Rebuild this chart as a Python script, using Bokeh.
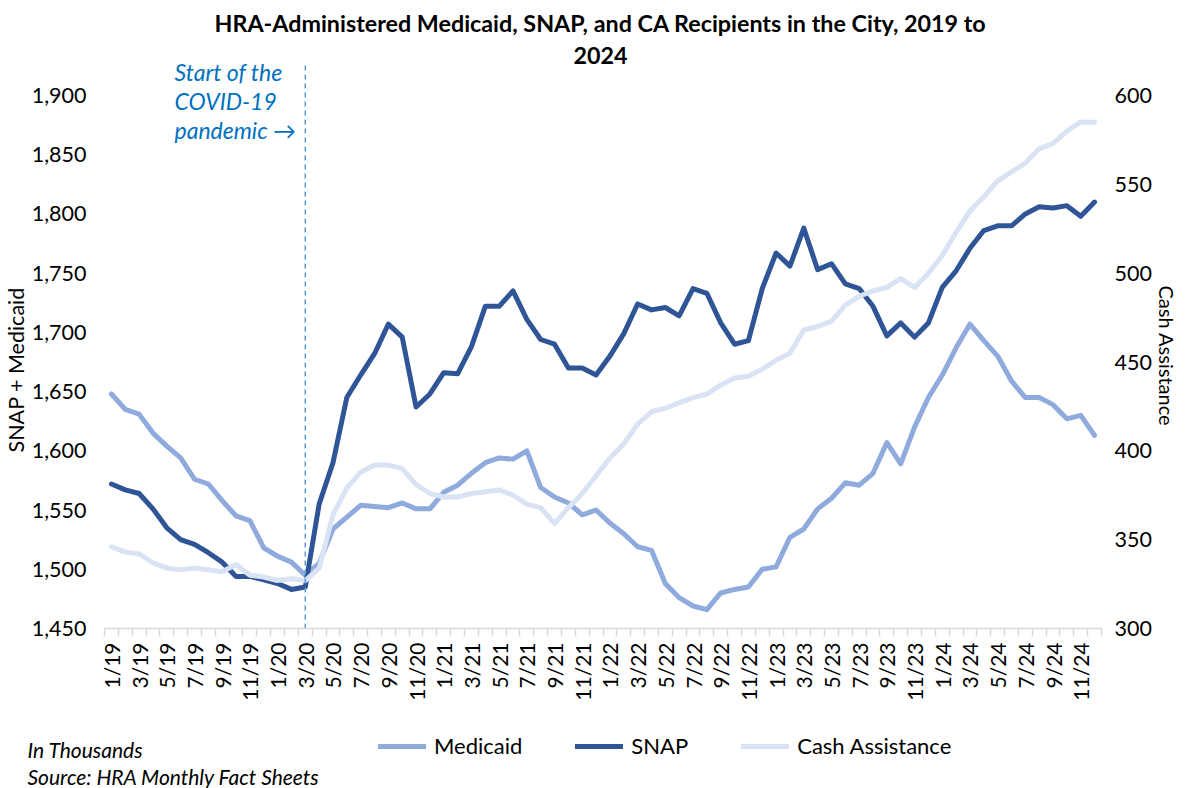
import math
from bokeh.plotting import figure
from bokeh.layouts import column
from bokeh.models import (Range1d, LinearAxis, FixedTicker, NumeralTickFormatter,
                          Label, Legend, LegendItem, Title)
from bokeh.embed import file_html
from bokeh.resources import INLINE

# ---------------- data (thousands) ----------------
month_labels = [
    "1/19", "2/19", "3/19", "4/19", "5/19", "6/19", "7/19", "8/19", "9/19", "10/19", "11/19", "12/19",
    "1/20", "2/20", "3/20", "4/20", "5/20", "6/20", "7/20", "8/20", "9/20", "10/20", "11/20", "12/20",
    "1/21", "2/21", "3/21", "4/21", "5/21", "6/21", "7/21", "8/21", "9/21", "10/21", "11/21", "12/21",
    "1/22", "2/22", "3/22", "4/22", "5/22", "6/22", "7/22", "8/22", "9/22", "10/22", "11/22", "12/22",
    "1/23", "2/23", "3/23", "4/23", "5/23", "6/23", "7/23", "8/23", "9/23", "10/23", "11/23", "12/23",
    "1/24", "2/24", "3/24", "4/24", "5/24", "6/24", "7/24", "8/24", "9/24", "10/24", "11/24", "12/24",
]

medicaid = [
    1648, 1635, 1631, 1615, 1604, 1594, 1576, 1572, 1558, 1545, 1541, 1518,
    1511, 1506, 1495, 1505, 1534, 1544, 1554, 1553, 1552, 1556, 1551, 1551,
    1565, 1571, 1581, 1590, 1594, 1593, 1600, 1569, 1561, 1556, 1546, 1550,
    1539, 1530, 1519, 1516, 1488, 1476, 1469, 1466, 1480, 1483, 1485, 1500,
    1502, 1527, 1534, 1551, 1560, 1573, 1571, 1581, 1607, 1589, 1620, 1645,
    1664, 1687, 1707, 1693, 1680, 1659, 1645, 1645, 1639, 1627, 1630, 1613,
]

snap = [
    1572, 1567, 1564, 1551, 1535, 1525, 1521, 1514, 1506, 1494, 1494, 1491,
    1488, 1483, 1485, 1555, 1590, 1645, 1664, 1682, 1707, 1696, 1637, 1648,
    1666, 1665, 1688, 1722, 1722, 1735, 1711, 1694, 1690, 1670, 1670, 1664,
    1680, 1699, 1724, 1719, 1721, 1714, 1737, 1733, 1708, 1690, 1693, 1737,
    1767, 1756, 1788, 1753, 1758, 1741, 1737, 1722, 1697, 1708, 1696, 1708,
    1738, 1752, 1771, 1786, 1790, 1790, 1800, 1806, 1805, 1807, 1798, 1810,
]

cash_assistance = [
    346, 343, 342, 337, 334, 333, 334, 333, 332, 336, 330, 329,
    327, 328, 327, 334, 364, 379, 388, 392, 392, 390, 381, 376,
    374, 374, 376, 377, 378, 375, 370, 368, 359, 368, 376, 386,
    396, 404, 415, 422, 424, 427, 430, 432, 437, 441, 442, 446,
    451, 455, 468, 470, 473, 482, 487, 490, 492, 497, 492, 500,
    510, 523, 535, 543, 552, 557, 562, 570, 573, 580, 585, 585,
]

left_ticks = [1450, 1500, 1550, 1600, 1650, 1700, 1750, 1800, 1850, 1900]
right_ticks = [300, 350, 400, 450, 500, 550, 600]
covid_start = "3/20"

title_lines = ["HRA-Administered Medicaid, SNAP, and CA Recipients in the City, 2019 to", "2024"]
covid_note = ["Start of the", "COVID-19", "pandemic \u2192"]
footnotes = ["In Thousands", "Source: HRA Monthly Fact Sheets"]

C_MED, C_SNAP, C_CA = "#8FAADC", "#2F5597", "#DAE3F3"
FONT = "Lato"
W = 1180
idx = list(range(len(month_labels)))

# ---------------- main figure ----------------
p = figure(width=W, height=712, output_backend="svg", toolbar_location=None,
           x_range=Range1d(-0.5, len(month_labels) - 0.5),
           y_range=Range1d(1450, 1980.2),
           min_border_left=103, min_border_right=76, min_border_top=0, min_border_bottom=84)
p.extra_y_ranges = {"ca": Range1d(300, 653.5)}
p.outline_line_color = None
p.xgrid.visible = False
p.ygrid.visible = False
p.background_fill_color = "white"
p.border_fill_color = "white"
p.frame_align = False

# x axis
xa = p.xaxis[0]
xa.ticker = FixedTicker(ticks=idx[::2], minor_ticks=[i - 0.5 for i in range(len(month_labels) + 1)])
xa.major_label_overrides = {i: month_labels[i] for i in idx[::2]}
xa.major_label_orientation = math.pi / 2
xa.major_tick_in = 0
xa.major_tick_out = 0
xa.minor_tick_in = 0
xa.minor_tick_out = 8
xa.minor_tick_line_color = "#D9D9D9"
xa.minor_tick_line_width = 1.5
xa.axis_line_color = "#D9D9D9"
xa.axis_line_width = 1.5
xa.major_label_text_font = FONT
xa.major_label_text_font_size = "21px"
xa.major_label_text_color = "#000000"
xa.major_label_standoff = 6


def style_value_axis(ax, standoff):
    ax.axis_line_color = None
    ax.major_tick_line_color = None
    ax.minor_tick_line_color = None
    ax.major_tick_in = 0
    ax.major_tick_out = 0
    ax.minor_tick_in = 0
    ax.minor_tick_out = 0
    ax.major_label_text_font = FONT
    ax.major_label_text_font_size = "21.5px"
    ax.major_label_text_color = "#000000"
    ax.major_label_standoff = standoff


# left axis
ya = p.yaxis[0]
ya.ticker = FixedTicker(ticks=left_ticks)
ya.formatter = NumeralTickFormatter(format="0,0")
style_value_axis(ya, 18)

# right axis
ra = LinearAxis(y_range_name="ca", ticker=FixedTicker(ticks=right_ticks))
style_value_axis(ra, 13)
p.add_layout(ra, "right")

# axis titles (side titles so they can sit where the original places them)
p.add_layout(Title(text="SNAP + Medicaid", align="left", offset=176, standoff=0,
                   text_font=FONT, text_font_size="21.5px", text_font_style="normal",
                   text_color="#000000"), "left")
p.add_layout(Title(text="Cash Assistance", align="left", offset=285, standoff=0,
                   text_font=FONT, text_font_size="20px", text_font_style="normal",
                   text_color="#000000"), "right")

# lines
line_kw = dict(line_width=5, line_join="round", line_cap="round")
r_med = p.line(idx, medicaid, line_color=C_MED, **line_kw)
r_snap = p.line(idx, snap, line_color=C_SNAP, **line_kw)
r_ca = p.line(idx, cash_assistance, line_color=C_CA, y_range_name="ca", **line_kw)

# covid marker (dashed vertical line from the axis up past the top tick)
cx = month_labels.index(covid_start)
p.segment(x0=[cx], y0=[left_ticks[0]], x1=[cx], y1=[left_ticks[-1] + 28],
          line_color="#5B9BD5", line_width=1.5, line_dash="5 4")
for k, t in enumerate(covid_note):
    p.add_layout(Label(x=70, y=557 - 29 * k, x_units="screen", y_units="screen", text=t,
                       text_font=FONT, text_font_size="23px", text_font_style="italic",
                       text_color="#0070C0", text_baseline="middle", text_align="left"))

# title (inside the tall frame, above the top tick)
for k, t in enumerate(title_lines):
    p.add_layout(Label(x=496, y=606 - 33 * k, x_units="screen", y_units="screen", text=t,
                       text_font=FONT, text_font_size="23.3px", text_font_style="bold",
                       text_color="#000000", text_baseline="middle", text_align="center"))

# ---------------- footer figure: legend + notes ----------------
fh = 76
f = figure(width=W, height=fh, output_backend="svg", toolbar_location=None,
           x_range=Range1d(0, W), y_range=Range1d(0, fh),
           x_axis_location=None, y_axis_location=None,
           min_border_left=0, min_border_right=0, min_border_top=0, min_border_bottom=0)
f.xgrid.visible = False
f.ygrid.visible = False
f.outline_line_color = None
f.background_fill_color = "white"
f.border_fill_color = "white"
f.frame_align = False

# legend keys: same series, drawn far outside this strip's visible range
k_med = f.line(idx, medicaid, line_color=C_MED, **line_kw)
k_snap = f.line(idx, snap, line_color=C_SNAP, **line_kw)
k_ca = f.line(idx, cash_assistance, line_color=C_CA, **line_kw)
legend = Legend(items=[LegendItem(label="Medicaid", renderers=[k_med]),
                       LegendItem(label="SNAP", renderers=[k_snap]),
                       LegendItem(label="Cash Assistance", renderers=[k_ca])],
                orientation="horizontal", location=(378, 29),
                glyph_width=48, glyph_height=20, label_height=20, label_standoff=8,
                spacing=53, padding=0, margin=0, border_line_color=None,
                background_fill_alpha=0, label_text_font=FONT, label_text_font_size="22px",
                label_text_color="#000000", label_text_baseline="middle")
f.add_layout(legend)

for k, t in enumerate(footnotes):
    f.add_layout(Label(x=27, y=39 - 27 * k, x_units="screen", y_units="screen", text=t,
                       text_font=FONT, text_font_size="21px", text_font_style="italic",
                       text_color="#000000", text_baseline="middle", text_align="left"))

layout = column(p, f, spacing=0)
open("out.html", "w").write(file_html(layout, INLINE))
